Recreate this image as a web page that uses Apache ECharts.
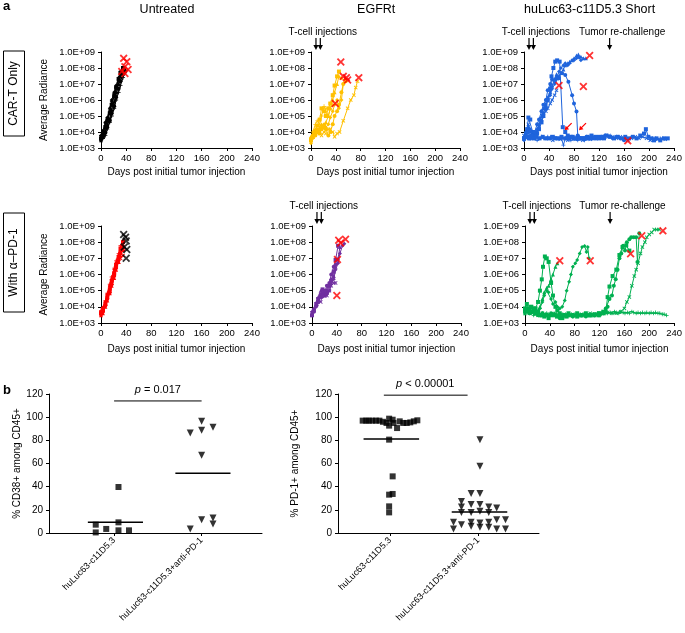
<!DOCTYPE html>
<html>
<head>
<meta charset="utf-8">
<script src="https://cdn.jsdelivr.net/npm/echarts@6/dist/echarts.min.js"></script>
<style>
html, body { margin: 0; padding: 0; background: #fff; }
#chart { width: 685px; height: 633px; }
</style>
</head>
<body>
<div id="chart"></div>
<script>
// ---- panel a, row 1 (CAR-T only) ----
const untreatedMice = [
    [[0,4e3],[3,7e3],[7,2e4],[10,5e4],[14,1.5e5],[17,5e5],[21,2e6],[24,6e6],[28,2e7],[31,5e7],[35,1e8]],
    [[0,3e3],[3,5e3],[7,1.2e4],[10,3e4],[14,7e4],[17,2.5e5],[21,8e5],[24,3e6],[28,1e7],[31,3e7],[35,6e7],[38,9e7]],
    [[0,6e3],[3,1.2e4],[7,4e4],[10,8e4],[14,3e5],[17,1e6],[21,3e6],[24,8e6],[28,2.5e7],[31,6e7]],
    [[0,4e3],[3,4.5e3],[7,9e3],[10,2e4],[14,5e4],[17,1.5e5],[21,4e5],[24,1.5e6],[28,5e6],[31,1.5e7],[35,4e7],[38,6e7]],
    [[0,5e3],[3,8e3],[7,3e4],[10,6e4],[14,2e5],[17,7e5],[21,1.5e6],[24,5e6],[28,1.5e7],[31,4e7],[35,7e7]],
    [[0,3e3],[3,4e3],[7,6e3],[10,1.5e4],[14,4e4],[17,1e5],[21,3e5],[24,1e6],[28,3e6],[31,8e6],[35,2.5e7],[38,5e7]]
];
const untreatedDeaths = [[36,4e8],[41,2.5e8],[38,1.2e8],[43,8e7],[33,6e7],[38,4.5e7]];

const egfrtMice = [
    [[0,3e3],[3,5e3],[7,1.2e4],[10,2.5e4],[14,6e4],[17,3e5],[21,2e5],[24,1e5],[28,3e5],[31,6e5],[35,2e6],[38,8e6],[42,3e7],[45,6e7]],
    [[0,5e3],[3,8e3],[7,1.5e4],[10,1e4],[14,2e4],[17,3e4],[21,2e4],[24,4e4],[28,1e5],[31,3e5],[35,1e6],[38,3e6],[42,1e7],[45,3e7],[49,2.5e7]],
    [[0,2e3],[3,4e3],[7,8e3],[10,1.5e4],[14,1.2e4],[17,2e4],[21,3e4],[24,2e4],[28,3e4],[31,8e4],[35,2e5],[38,5e5],[42,1e6],[45,3e5],[49,1e6],[52,1e7],[55,2e7]],
    [[0,4e3],[3,6e3],[7,6e3],[10,1e4],[14,8e3],[17,1.5e4],[21,2.5e4],[24,1.5e4],[28,6e3],[31,1e4],[35,3e4],[38,1e5],[42,2e5],[45,5e5],[49,3e6],[52,1e7],[56,1.5e7]],
    [[0,3e3],[3,5e3],[7,1e4],[10,8e3],[14,1e4],[17,6e3],[21,1e4],[24,8e3],[28,1.5e4],[31,1.5e4],[35,1e4],[38,5e3],[42,8e3],[46,1e4],[52,5e4],[59,3e5],[64,1e6],[69,2e6],[72,6e6],[75,1.5e7]],
    [[0,4e3],[3,1e4],[7,3e4],[10,5e4],[14,3e4],[17,1e5],[21,4e5],[24,3e5],[28,1e5],[31,3e5],[35,5e5]]
];
const egfrtDeaths = [[48,2.4e8],[52,3e7],[57,2.5e7],[59,1.8e7],[77,2.5e7],[39,6e5]];

const shortMice = [
    [[0,4e3],[3,8e3],[5,1.5e4],[7,8e4],[10,6e4],[14,1e4],[17,5e3],[21,8e3],[24,1.5e4],[28,4e4],[31,1e5],[35,3e5],[38,1e6],[42,5e6],[44,3e7],[47,1e8],[50,2.5e8],[53,3e8],[57,2.5e8],[62,2e4],[66,1e4],[70,6e3],[75,5e3],[80,4e3],[86,5e3],[91,4e3],[97,4e3],[102,5e3],[108,4e3],[115,4e3],[122,5e3],[128,4e3]],
    [[0,5e3],[3,6e3],[7,5e3],[10,4e3],[14,8e3],[17,6e3],[21,1e4],[24,3e4],[28,1e5],[31,3e5],[35,6e5],[38,1.5e6],[42,3e6],[45,8e6],[49,2e7],[52,4e7],[56,3e7],[59,5e7],[63,8e7],[66,1.5e8],[70,2e8],[73,2.5e8],[77,3e8],[80,4e8],[84,6e8],[87,7e8],[91,5e8],[95,4e8],[99,4e8]],
    [[0,3e3],[3,1e4],[7,2e4],[10,1.5e4],[14,5e3],[17,8e3],[21,1.5e4],[24,2e4],[28,5e4],[31,1.5e5],[35,4e5],[38,1e6],[42,2e6],[45,5e6],[49,1e7],[52,2e7],[56,6e7],[59,1e8],[63,1.5e8],[66,2e8],[70,1.5e8],[73,2e8],[77,3e8],[80,3e8],[84,4e8],[88,4.5e8],[91,3e8]],
    [[0,4e3],[3,5e3],[7,1e4],[10,5e3],[14,4e3],[17,1e4],[21,3e4],[24,6e4],[28,2e5],[31,5e5],[35,1e6],[38,4e6],[42,1e7],[45,2e7],[49,1.5e7],[52,2.5e7],[55,2.2e7],[61,4.7e7],[66,3.6e7],[71,1.4e7],[77,2e6],[80,6e5],[84,1.9e5],[86,6e3],[91,4e3],[95,4e3],[100,5e3],[106,4e3],[112,4e3],[118,5e3],[124,4e3],[130,6e3],[136,5e3],[142,4e3],[148,5e3],[154,4e3],[160,3e3]],
    [[0,6e3],[3,5e3],[7,3e4],[10,1e4],[14,5e3],[17,6e3],[21,1e4],[24,2e4],[28,6e4],[31,1e5],[35,2e5],[38,3e5],[42,6e5],[45,1e6],[49,2e6],[52,4e6]],
    [[0,5e3],[3,4e3],[7,6e3],[10,4e3],[14,5e3],[17,4e3],[21,3e3],[24,4e3],[28,5e3],[31,4e3],[35,4e3],[38,5e3],[42,4e3],[45,4e3],[49,5e3],[52,4e3],[56,4e3],[60,4e3],[63,1.5e3],[66,4e3],[70,4e3],[75,3e3],[80,4e3],[86,3e3],[91,4e3],[97,3e3],[102,4e3]],
    [[0,4e3],[4,5e3],[8,4e3],[12,6e3],[16,4e3],[20,5e3],[25,4e3],[30,5e3],[35,4e3],[40,4e3],[45,5e3],[50,4e3],[55,4e3],[60,5e3],[66,4e3],[72,4e3],[78,5e3],[84,4e3],[90,4e3],[96,4e3],[102,4e3],[108,6e3],[114,5e3],[120,4e3],[126,5e3],[132,6e3],[138,5e3],[144,4e3],[150,5e3],[156,4e3],[162,5e3],[168,4e3],[174,5e3],[180,4e3],[186,6e3],[192,8e3],[195,1.5e4],[199,5e3],[204,4e3],[208,3e3],[212,4e3],[218,3e3],[224,4e3],[230,4e3]],
    [[40,4e3],[46,3e3],[52,4e3],[58,3.5e3],[64,4e3],[70,3e3],[76,4e3],[82,3.5e3],[88,4e3],[94,3e3],[100,4e3],[106,3.5e3],[112,4e3],[118,4.5e3],[124,4e3],[130,5e3],[136,6e3],[142,5e3],[148,4e3],[154,5e3],[160,4e3],[166,3e3],[172,4e3],[178,5e3],[184,4e3],[190,5e3],[196,4e3],[202,3e3],[208,4e3],[214,3.5e3],[220,4e3],[226,3.5e3]]
];
const shortDeaths = [[105,6e8],[95,7e6],[56,8e6],[166,2.8e3]];

// ---- panel a, row 2 (with anti-PD-1) ----
const pdUntreatedMice = [
    [[0,4e3],[3,6e3],[7,1.5e4],[10,4e4],[14,1.2e5],[17,4e5],[21,1.2e6],[24,4e6],[28,1.2e7],[31,4e7],[35,1e8]],
    [[0,3e3],[3,4e3],[7,1e4],[10,2.5e4],[14,7e4],[17,2e5],[21,6e5],[24,2e6],[28,6e6],[31,1.5e7],[35,5e7]],
    [[0,5e3],[3,9e3],[7,2e4],[10,6e4],[14,2e5],[17,5e5],[21,2e6],[24,5e6],[28,1.5e7],[31,3e7],[35,6e7]],
    [[0,3.5e3],[3,5e3],[7,1.2e4],[10,3e4],[14,8e4],[17,2.5e5],[21,8e5],[24,2.5e6],[28,8e6],[31,2e7],[35,3e7]],
    [[0,4e3],[3,7e3],[7,1.8e4],[10,5e4],[14,1.5e5],[17,3e5],[21,1e6],[24,3e6],[28,6e6],[31,1e7],[35,1.5e7]],
    [[0,6e3],[3,8e3],[7,2.5e4],[10,7e4],[14,2.5e5],[17,7e5],[21,2.5e6],[24,7e6],[28,2e7],[31,6e7],[35,1.2e8]]
];
const pdUntreatedDeaths = [[36,3e8],[39,2e8],[40,1.2e8],[37,5e7],[41,3.5e7],[40,1e7]];

const pdEgfrtMice = [
    [[0,3e3],[3,6e3],[7,1.5e4],[10,3e4],[14,5e4],[17,1.2e5],[21,6e4],[24,8e4],[28,2e5],[31,4e5],[35,1.5e6],[38,8e6],[42,6e7]],
    [[0,4e3],[3,8e3],[7,2e4],[10,4e4],[14,1e5],[17,8e4],[21,5e4],[24,1.2e5],[28,3e5],[31,3e5],[35,8e5],[38,3e6],[42,1e7],[45,5e7]],
    [[0,5e3],[3,7e3],[7,1e4],[10,2e4],[14,6e4],[17,4e4],[21,1e5],[24,6e4],[28,1e5],[31,5e5],[35,5e5],[38,2e6],[42,5e6],[45,2e7],[49,6e7],[52,8e7]],
    [[0,3e3],[3,5e3],[7,1.2e4],[10,2e4],[14,4e4],[17,5e4],[21,1e5],[24,2e5],[28,3e5],[31,1e6],[35,3e6],[38,4e6]],
    [[0,4e3],[3,6e3],[7,1.5e4],[10,3e4],[14,2e4],[17,6e4],[21,8e4],[24,5e4],[28,1e5],[31,2e5],[35,3e5],[38,3e5]]
];
const pdEgfrtDeaths = [[43,1.3e8],[46,9e7],[54,1.5e8],[41,8.5e6],[40,5e4]];

const pdShortMice = [
    [[0,5e3],[3,8e3],[7,6e3],[10,1e4],[14,5e3],[17,8e3],[21,2e4],[24,1e5],[27,5e5],[29,3e6],[32,1.3e7],[35,1e7],[38,6e6],[42,3e5],[45,5e4],[49,1e4],[52,6e3],[56,4e3],[63,3e3],[70,4e3],[77,3e3],[84,4e3],[91,3e3],[98,4e3],[105,3e3],[112,3e3],[119,4e3],[126,5e3]],
    [[0,4e3],[3,6e3],[7,1e4],[10,5e3],[14,8e3],[17,4e3],[21,6e3],[24,1e4],[28,3e4],[31,8e4],[35,1.5e5],[38,2e5],[42,5e5],[45,1e6],[49,3e6],[52,5e6]],
    [[0,6e3],[3,5e3],[7,8e3],[10,4e3],[14,6e3],[17,5e3],[21,4e3],[24,8e3],[28,2e4],[31,5e4],[35,1e5],[38,8e4],[42,3e4],[45,1.5e4],[49,2e4],[52,1e4],[56,8e3],[60,1e4],[64,2.5e4],[67,1e5],[71,3.5e5],[74,1e6],[77,3e6],[81,5e6],[84,8e6],[88,2e7],[92,5e7],[96,5.7e7],[99,2.5e7],[101,5e7],[103,1e7]],
    [[0,5e3],[7,4e3],[14,6e3],[21,3e3],[28,4e3],[35,3e3],[42,4e3],[49,3e3],[56,2e3],[63,3e3],[70,3e3],[77,2.5e3],[84,3e3],[91,3e3],[98,2.5e3],[105,3e3],[112,3e3],[119,4e3],[126,4e3],[130,8e3],[133,1e4],[136,3e4],[140,5e4],[143,2e5],[146,5e5],[149,2e6],[152,1e7],[155,2e7],[158,6e7],[161,3e7],[164,1e8],[168,1.5e8],[171,2e8],[175,2e8],[179,2e8],[181,6e6],[184,3.5e8]],
    [[0,6e3],[7,4e3],[14,5e3],[21,3e3],[28,4e3],[35,3.5e3],[42,3e3],[49,4e3],[56,3e3],[63,3.5e3],[70,3e3],[77,3.5e3],[84,3e3],[91,3.5e3],[98,3e3],[105,4e3],[112,3.5e3],[119,4e3],[126,4e3],[133,4.5e3],[140,4e3],[147,4e3],[154,5e3],[160,8e3],[164,2e4],[168,4e4],[172,2e5],[176,8e5],[179,2e6],[182,5e6],[186,2e7],[189,5e7],[193,1e8],[196,2e8],[200,3e8],[204,4e8],[208,6e8],[212,6e8],[216,6e8]],
    [[0,5e3],[4,8e3],[7,4e3],[11,6e3],[14,3e3],[18,5e3],[21,4e3],[25,3e3],[28,4e3],[32,3e3],[35,4e3],[39,3e3],[42,3.5e3],[46,3e3],[49,2.5e3],[53,3e3],[56,3.5e3],[60,3e3],[63,2.5e3],[67,3e3],[70,3.5e3],[74,3e3],[77,2.5e3],[81,3e3],[84,3.5e3],[88,3e3],[91,3e3],[95,3.5e3],[98,3e3],[102,3e3],[105,3.5e3],[109,3e3],[112,3e3],[116,3.5e3],[119,3e3],[123,3.5e3],[126,4e3],[130,4e3],[133,4e3],[137,4.5e3],[140,4e3],[144,5e3],[147,4.5e3],[151,4e3],[154,5e3],[158,4.5e3],[161,4e3],[165,4.5e3],[168,4e3],[172,5e3],[175,4.5e3],[179,4e3],[182,4.5e3],[186,4e3],[189,4.5e3],[193,4e3],[196,4.5e3],[200,4e3],[203,4.5e3],[207,4e3],[210,4.5e3],[214,4e3],[217,4e3],[221,3.5e3],[224,3.5e3],[228,3e3]],
    [[0,8e3],[3,1.5e4],[7,6e3],[10,1e4],[14,8e3],[17,4e3],[21,5e3],[24,3e3],[28,3e3],[31,2.5e3],[35,3e3],[38,2e3],[42,3e3],[45,3.5e3],[49,3e3],[52,2.5e3],[56,3e3],[60,2e3],[63,3e3],[67,2.5e3],[70,3e3],[77,3e3],[84,2.5e3],[91,3e3],[98,3e3],[105,3e3],[112,3.5e3],[119,3e3],[126,4e3],[130,5e3],[133,4e4],[136,1.8e5],[141,8e5],[147,2e6],[152,1.6e7],[157,5e7],[163,6.3e7],[168,3e7]]
];
const pdShortDeaths = [[56,7e6],[105,7e6],[170,1.9e7],[188,2.5e8],[222,5e8]];

// ---- panel b ----
const groupNames = ['huLuc63-c11D5.3', 'huLuc63-c11D5.3+anti-PD-1'];
const cd38Plain = [[-0.21,7.2],[-0.21,0.5],[-0.09,3.5],[0.05,39.7],[0.05,9.2],[0.05,2.3],[0.17,2.3]];
const cd38AntiPd1 = [[0.87,86.3],[1.0,96.4],[1.0,88.6],[1.13,91.2],[1.0,67.1],[0.87,3.5],[1.0,11.5],[1.13,13],[1.13,7.8]];
const cd38Means = [9.2, 51.5];
const pd1Plain = [[-0.31,97],[-0.27,97],[-0.24,97],[-0.2,97],[-0.16,97],[-0.12,97],[-0.08,96],[-0.04,95],[-0.01,98.7],[-0.01,92.7],[0.03,97.8],[0.04,95],[0.08,90.6],[0.11,96.4],[0.15,95],[0.19,95],[0.23,95.5],[0.27,96.4],[0.31,97.3],[-0.01,80.6],[0.03,48.9],[0.03,33.7],[-0.01,33.1],[-0.01,23],[-0.01,17.8]];
const pd1AntiPd1 = [[1.02,80.6],[1.02,57.6],[0.92,34],[1.02,34],[0.81,27.3],[0.81,22.4],[0.92,24.5],[1.02,24.5],[1.12,22.4],[1.21,21.6],[0.81,17.8],[0.92,17.8],[1.02,18.7],[1.12,17.8],[0.72,9.2],[0.92,9.2],[1.02,8.6],[1.12,9.2],[1.21,11.5],[1.31,11.5],[0.72,3.5],[0.81,7.2],[0.92,5.8],[1.02,4.9],[1.12,4.9],[1.21,3.5],[1.31,3.5]];
const pd1Means = [81.2, 18.1];
const pValues = ['0.017', '< 0.00001'];

const tCellDays = [8, 15];
const rechallengeDay = 137;

const FONT = '"Liberation Sans", Arial, sans-serif';
const X_PATH = 'path://M0,1.6L1.6,0L5,3.4L8.4,0L10,1.6L6.6,5L10,8.4L8.4,10L5,6.6L1.6,10L0,8.4L3.4,5Z';
const PLUS_PATH = 'path://M4,0H6V4H10V6H6V10H4V6H0V4H4Z';
const SYMBOLS = ['rect', 'triangle', 'diamond', 'circle', X_PATH, PLUS_PATH, 'rect', X_PATH];

const grids = [
    { left: 101, top: 52, width: 151, height: 96 },
    { left: 311, top: 52, width: 149, height: 96 },
    { left: 524, top: 52, width: 150, height: 96 },
    { left: 101, top: 226, width: 151, height: 97 },
    { left: 312, top: 226, width: 149, height: 97 },
    { left: 525, top: 226, width: 150, height: 97 },
    { left: 49, top: 394, width: 213, height: 139 },
    { left: 338, top: 394, width: 201, height: 139 }
];

const axisLineStyle = { onZero: false, lineStyle: { color: '#000', width: 1 } };
const xAxes = [];
const yAxes = [];
for (let i = 0; i < 6; i++) {
    xAxes.push({
        gridIndex: i, type: 'value', min: 0, max: 240, interval: 40,
        axisLine: axisLineStyle,
        axisTick: { length: 3, lineStyle: { color: '#000' } },
        axisLabel: { fontSize: 9.5, color: '#000', margin: 5, fontFamily: FONT },
        splitLine: { show: false },
        name: 'Days post initial tumor injection', nameLocation: 'middle', nameGap: i < 3 ? 19 : 21,
        nameTextStyle: { fontSize: 10, color: '#000', fontFamily: FONT }
    });
    yAxes.push({
        gridIndex: i, type: 'log', logBase: 10, min: 1e3, max: 1e9, splitNumber: 6,
        axisLine: { show: true, onZero: false, lineStyle: { color: '#000', width: 1 } },
        axisTick: { show: true, length: 3, lineStyle: { color: '#000' } },
        axisLabel: {
            fontSize: 9.5, color: '#000', margin: 6, fontFamily: FONT,
            formatter: v => '1.0E+' + String(Math.round(Math.log10(v))).padStart(2, '0')
        },
        splitLine: { show: false },
        name: i % 3 === 0 ? 'Average Radiance' : '', nameLocation: 'middle', nameGap: 52,
        nameTextStyle: { fontSize: 10, color: '#000', fontFamily: FONT }
    });
}
const scatterX = [[-0.744, 1.69], [-0.59, 1.69]];
const scatterNames = ['% CD38+ among CD45+', '% PD-1+ among CD45+'];
for (let k = 0; k < 2; k++) {
    xAxes.push({
        gridIndex: 6 + k, type: 'value', min: scatterX[k][0], max: scatterX[k][1],
        axisLine: axisLineStyle,
        axisTick: { length: 3, customValues: [0, 1], lineStyle: { color: '#000' } },
        axisLabel: {
            customValues: [0, 1], rotate: 45, fontSize: 9, color: '#000', margin: 6,
            fontFamily: FONT, formatter: v => groupNames[Math.round(v)]
        },
        splitLine: { show: false }
    });
    yAxes.push({
        gridIndex: 6 + k, type: 'value', min: 0, max: 120, interval: 20,
        axisLine: { show: true, onZero: false, lineStyle: { color: '#000', width: 1 } },
        axisTick: { show: true, length: 3, lineStyle: { color: '#000' } },
        axisLabel: { fontSize: 10, color: '#000', margin: 6, fontFamily: FONT },
        splitLine: { show: false },
        name: scatterNames[k], nameLocation: 'middle', nameGap: k === 0 ? 22 : 38,
        nameTextStyle: { fontSize: 10, color: '#000', fontFamily: FONT }
    });
}

const series = [];
function addPanel(idx, mice, deaths, lineColor, deathColor) {
    mice.forEach((m, j) => {
        series.push({
            type: 'line', xAxisIndex: idx, yAxisIndex: idx, data: m,
            symbol: SYMBOLS[j % SYMBOLS.length], symbolSize: 4, showAllSymbol: true,
            lineStyle: { color: lineColor, width: 1 }, itemStyle: { color: lineColor },
            silent: true, z: 2
        });
    });
    series.push({
        type: 'scatter', xAxisIndex: idx, yAxisIndex: idx, data: deaths,
        symbol: X_PATH, symbolSize: 8, itemStyle: { color: deathColor }, silent: true, z: 5
    });
}
addPanel(0, untreatedMice, untreatedDeaths, '#000000', '#ff0000');
addPanel(1, egfrtMice, egfrtDeaths, '#FFC000', '#ff0000');
addPanel(2, shortMice, shortDeaths, '#1F64DC', '#ff0000');
addPanel(3, pdUntreatedMice, pdUntreatedDeaths, '#ff0000', '#000000');
addPanel(4, pdEgfrtMice, pdEgfrtDeaths, '#7030A0', '#ff0000');
addPanel(5, pdShortMice, pdShortDeaths, '#00B050', '#ff0000');

function addScatter(idx, plain, anti, means, pLine) {
    series.push({ type: 'scatter', xAxisIndex: idx, yAxisIndex: idx, data: plain,
        symbol: 'rect', symbolSize: 6, itemStyle: { color: '#000' }, silent: true });
    series.push({ type: 'scatter', xAxisIndex: idx, yAxisIndex: idx, data: anti,
        symbol: 'triangle', symbolRotate: 180, symbolSize: 7, itemStyle: { color: '#000' }, silent: true });
    means.forEach((m, g) => {
        series.push({ type: 'line', xAxisIndex: idx, yAxisIndex: idx,
            data: [[g - 0.3, m], [g + 0.33, m]], symbol: 'none',
            lineStyle: { color: '#000', width: 1.5 }, silent: true });
    });
    series.push({ type: 'line', xAxisIndex: idx, yAxisIndex: idx, data: pLine, symbol: 'none',
        lineStyle: { color: '#000', width: 1 }, silent: true });
}
addScatter(6, cd38Plain, cd38AntiPd1, cd38Means, [[0, 114], [1, 114]]);
addScatter(7, pd1Plain, pd1AntiPd1, pd1Means, [[-0.07, 119], [0.88, 119]]);

const chart = echarts.init(document.getElementById('chart'), null, { renderer: 'canvas' });
chart.setOption({
    animation: false,
    backgroundColor: '#fff',
    textStyle: { fontFamily: FONT },
    grid: grids,
    xAxis: xAxes,
    yAxis: yAxes,
    series: series
});

// annotations placed through the axes
const px = (i, x, y) => chart.convertToPixel({ xAxisIndex: i, yAxisIndex: i }, [x, y]);
const graphics = [];
function text(x, y, str, opts) {
    graphics.push(Object.assign({ type: 'text', x: x, y: y, silent: true,
        style: Object.assign({ text: str, fill: '#000', font: '12px ' + FONT, align: 'center', verticalAlign: 'middle' }, opts || {}) }));
}
function arrowDown(x, yTip, len, color) {
    graphics.push({ type: 'line', silent: true, shape: { x1: x, y1: yTip - len, x2: x, y2: yTip - 4 },
        style: { stroke: color, lineWidth: 1.2 } });
    graphics.push({ type: 'polygon', silent: true,
        shape: { points: [[x - 2.6, yTip - 5], [x + 2.6, yTip - 5], [x, yTip]] }, style: { fill: color } });
}
function arrowDiag(tip, color) {
    const [x, y] = tip;
    graphics.push({ type: 'line', silent: true, shape: { x1: x + 7, y1: y - 7, x2: x + 2, y2: y - 2 },
        style: { stroke: color, lineWidth: 1.2 } });
    graphics.push({ type: 'polygon', silent: true,
        shape: { points: [[x, y], [x + 1, y - 4.5], [x + 4.5, y - 1]] }, style: { fill: color } });
}

text(3, 6, 'a', { font: 'bold 13px ' + FONT, align: 'left' });
text(3, 390, 'b', { font: 'bold 13px ' + FONT, align: 'left' });
const colTitles = ['Untreated', 'EGFRt', 'huLuc63-c11D5.3 Short'];
colTitles.forEach((t, i) => {
    const c = px(i, 105, 1e9);
    text(c[0], 10, t, { font: '12.5px ' + FONT });
});

// row labels in boxes
const rowBoxes = [{ label: 'CAR-T Only', y: 51, h: 85 }, { label: 'With \u03b1\u2013PD-1', y: 213, h: 99 }];
rowBoxes.forEach(b => {
    graphics.push({ type: 'rect', silent: true, shape: { x: 3.5, y: b.y, width: 21, height: b.h },
        style: { fill: 'none', stroke: '#000', lineWidth: 1 } });
    graphics.push({ type: 'text', silent: true, x: 14, y: b.y + b.h / 2, rotation: Math.PI / 2,
        style: { text: b.label, fill: '#000', font: '12px ' + FONT, align: 'center', verticalAlign: 'middle' } });
});

[1, 2, 4, 5].forEach(i => {
    const top = px(i, 0, 1e9)[1];
    tCellDays.forEach(d => arrowDown(px(i, d, 1e9)[0], top - 2, 12, '#000'));
    text(px(i, 19, 1e9)[0], top - 20, 'T-cell injections', { font: '10px ' + FONT });
    if (i === 2 || i === 5) {
        arrowDown(px(i, rechallengeDay, 1e9)[0], top - 2, 12, '#000');
        text(px(i, 157, 1e9)[0], top - 20, 'Tumor re-challenge', { font: '10px ' + FONT });
    }
});
arrowDiag(px(2, 65, 1.3e4), '#ff0000');
arrowDiag(px(2, 88, 1.3e4), '#ff0000');

// p-values
const pAt = [px(6, 0.5, 114), px(7, 0.4, 119)];
pAt.forEach((p, k) => {
    graphics.push({ type: 'text', silent: true, x: p[0], y: p[1] - 11,
        style: { text: '{i|p} ' + (k === 0 ? '= ' : '') + pValues[k], fill: '#000', font: '11px ' + FONT,
            align: 'center', verticalAlign: 'middle',
            rich: { i: { fontStyle: 'italic', fontSize: 11, fontFamily: FONT } } } });
});

chart.setOption({ graphic: graphics });
</script>
</body>
</html>
